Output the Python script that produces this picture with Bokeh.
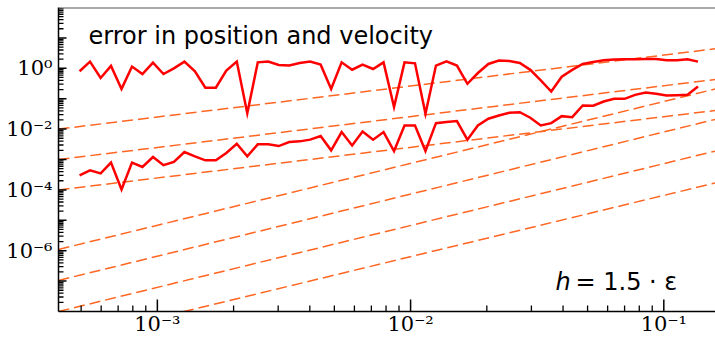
import math
from bokeh.plotting import figure
from bokeh.models import FixedTicker, Span, Label
from bokeh.embed import file_html
from bokeh.resources import INLINE

# ---- data ----
X_RANGE = [4.07e-4, 0.16]
Y_RANGE = [1.0e-8, 100.0]

h_values = [4.93e-4, 5.42e-4, 5.97e-4, 6.56e-4, 7.22e-4, 7.94e-4, 8.73e-4, 9.61e-4, 1.057e-3, 1.162e-3,
            1.279e-3, 1.407e-3, 1.547e-3, 1.702e-3, 1.872e-3, 2.059e-3, 2.265e-3, 2.492e-3, 2.741e-3, 3.015e-3,
            3.317e-3, 3.648e-3, 4.013e-3, 4.414e-3, 4.856e-3, 5.342e-3, 5.876e-3, 6.463e-3, 7.110e-3, 7.821e-3,
            8.603e-3, 9.463e-3, 1.0409e-2, 1.1450e-2, 1.2595e-2, 1.3854e-2, 1.5240e-2, 1.6764e-2, 1.8440e-2, 2.0284e-2,
            2.2313e-2, 2.4544e-2, 2.6998e-2, 2.9698e-2, 3.2668e-2, 3.5935e-2, 3.9528e-2, 4.3481e-2, 4.7829e-2, 5.2612e-2,
            5.7873e-2, 6.3661e-2, 7.0027e-2, 7.7030e-2, 8.4733e-2, 9.3206e-2, 0.10253, 0.11278, 0.12406, 0.13646]

error_upper = [0.80, 1.66, 0.48, 1.2, 0.21, 1.14, 0.65, 1.54, 0.65, 1.0,
               1.66, 0.80, 0.23, 0.23, 0.84, 1.66, 0.033, 1.57, 1.66, 1.29,
               1.23, 1.50, 1.66, 1.32, 0.21, 1.57, 0.90, 1.32, 0.95, 1.57,
               0.053, 1.57, 1.46, 0.032, 1.23, 1.70, 1.23, 0.31, 0.70, 1.39,
               1.79, 1.75, 1.50, 0.89, 0.40, 0.172, 0.53, 0.89, 1.39, 1.62,
               1.83, 1.93, 1.97, 1.97, 2.03, 2.03, 1.83, 1.83, 1.97, 1.66]

error_lower = [3.0e-4, 4.4e-4, 3.5e-4, 7.9e-4, 1.03e-4, 7.9e-4, 5.7e-4, 1.21e-3, 6.5e-4, 8.3e-4,
               1.76e-3, 1.27e-3, 9.4e-4, 9.4e-4, 1.63e-3, 3.3e-3, 1.27e-3, 3.15e-3, 3.15e-3, 2.77e-3,
               3.75e-3, 3.95e-3, 4.5e-3, 5.9e-3, 2.0e-3, 8.0e-3, 2.9e-3, 8.4e-3, 4.5e-3, 8.0e-3,
               1.9e-3, 1.32e-2, 1.32e-2, 1.9e-3, 1.57e-2, 1.7e-2, 1.83e-2, 4.5e-3, 1.32e-2, 2.19e-2,
               2.8e-2, 3.45e-2, 3.6e-2, 2.37e-2, 1.32e-2, 1.57e-2, 2.67e-2, 2.47e-2, 6.0e-2, 5.85e-2,
               8.1e-2, 9.9e-2, 9.9e-2, 0.134, 0.16, 0.145, 0.127, 0.130, 0.134, 0.25]

# reference power-law guide lines: value at left edge and at right edge of the x range
ref_x = [4.07e-4, 0.16]
ref_start = [1.0e-2, 1.0e-3, 1.0e-4, 1.1e-6, 1.05e-7, 1.0e-8, 1.0e-9]
ref_end = [4.4, 0.43, 0.041, 0.21, 0.021, 1.9e-3, 1.7e-4]

x_ticks = [1e-3, 1e-2, 1e-1]
x_tick_labels = ["10\u207b\u00b3", "10\u207b\u00b2", "10\u207b\u00b9"]
y_ticks = [1e-6, 1e-4, 1e-2, 1e0]
y_tick_labels = ["10\u207b\u2076", "10\u207b\u2074", "10\u207b\u00b2", "10\u2070"]

title_text = "error in position and velocity"
note_var = "h"
note_rest = "= 1.5 \u00b7 \u03b5"

# ---- figure ----
p = figure(width=715, height=338, x_axis_type="log", y_axis_type="log",
           x_range=(X_RANGE[0], X_RANGE[1]), y_range=(Y_RANGE[0], Y_RANGE[1]),
           output_backend="svg", toolbar_location=None,
           min_border_left=58, min_border_right=0, min_border_top=7, min_border_bottom=26)

p.xgrid.visible = False
p.ygrid.visible = False
p.outline_line_color = None
p.background_fill_color = "white"
p.border_fill_color = "white"

ORANGE = "#ff6622"
for ys, ye in zip(ref_start, ref_end):
    p.line(ref_x, [ys, ye], line_color=ORANGE, line_width=1.5, line_dash="11 5")

p.line(h_values, error_upper, line_color="#ff0000", line_width=2.5, line_join="miter")
p.line(h_values, error_lower, line_color="#ff0000", line_width=2.5, line_join="miter")

# top spine
p.add_layout(Span(location=Y_RANGE[1], dimension="width", line_color="#555555", line_width=2))

# tick positions
def decade_list(lo, hi, mults):
    out = []
    for d in range(lo, hi + 1):
        for k in mults:
            out.append(k * 10.0 ** d)
    return out

x_minor = [v for v in decade_list(-4, -1, range(2, 10)) if X_RANGE[0] < v < X_RANGE[1]]
y_decades = [v for v in decade_list(-8, 1, [1]) if Y_RANGE[0] < v < Y_RANGE[1]]
y_minor = [v for v in decade_list(-8, 1, range(2, 10)) if Y_RANGE[0] < v < Y_RANGE[1]]

p.xaxis.ticker = FixedTicker(ticks=x_ticks, minor_ticks=[])
p.xaxis.major_label_overrides = dict(zip(x_ticks, x_tick_labels))
p.yaxis.ticker = FixedTicker(ticks=y_ticks, minor_ticks=[])
p.yaxis.major_label_overrides = dict(zip(y_ticks, y_tick_labels))

for ax in (p.xaxis, p.yaxis):
    ax.axis_line_color = "black"
    ax.axis_line_width = 1.5
    ax.major_tick_line_color = None
    ax.minor_tick_line_color = None
    ax.major_tick_out = 0
    ax.minor_tick_out = 0
    ax.major_tick_in = 0
    ax.minor_tick_in = 0
    ax.major_label_text_font = "DejaVu Serif"
    ax.major_label_text_font_size = "21px"
    ax.major_label_text_color = "black"

p.xaxis.major_label_standoff = 0
p.yaxis.major_label_standoff = 6

# inward ticks drawn as dash markers centred on the frame edges (half is clipped away)
HALF_PI = math.pi / 2
p.scatter(x_ticks, [Y_RANGE[0]] * len(x_ticks), marker="dash", size=24, angle=HALF_PI,
          line_color="black", line_width=1.5)
p.scatter(x_minor, [Y_RANGE[0]] * len(x_minor), marker="dash", size=12, angle=HALF_PI,
          line_color="black", line_width=1.3)
p.scatter([X_RANGE[0]] * len(y_decades), y_decades, marker="dash", size=16,
          line_color="black", line_width=1.5)
p.scatter([X_RANGE[0]] * len(y_minor), y_minor, marker="dash", size=10,
          line_color="black", line_width=1.3)

p.add_layout(Label(x=X_RANGE[0], y=Y_RANGE[1], x_offset=30, y_offset=-28, text=title_text,
                   text_font="DejaVu Sans", text_font_size="24px", text_color="black",
                   text_baseline="alphabetic"))
p.add_layout(Label(x=X_RANGE[0], y=Y_RANGE[0], x_offset=497, y_offset=30, text=note_var,
                   text_font="DejaVu Sans", text_font_style="italic", text_font_size="24px",
                   text_color="black", text_baseline="alphabetic"))
p.add_layout(Label(x=X_RANGE[0], y=Y_RANGE[0], x_offset=517, y_offset=30, text=note_rest,
                   text_font="DejaVu Sans", text_font_size="24px", text_color="black",
                   text_baseline="alphabetic"))

open("out.html", "w").write(file_html(p, INLINE))
